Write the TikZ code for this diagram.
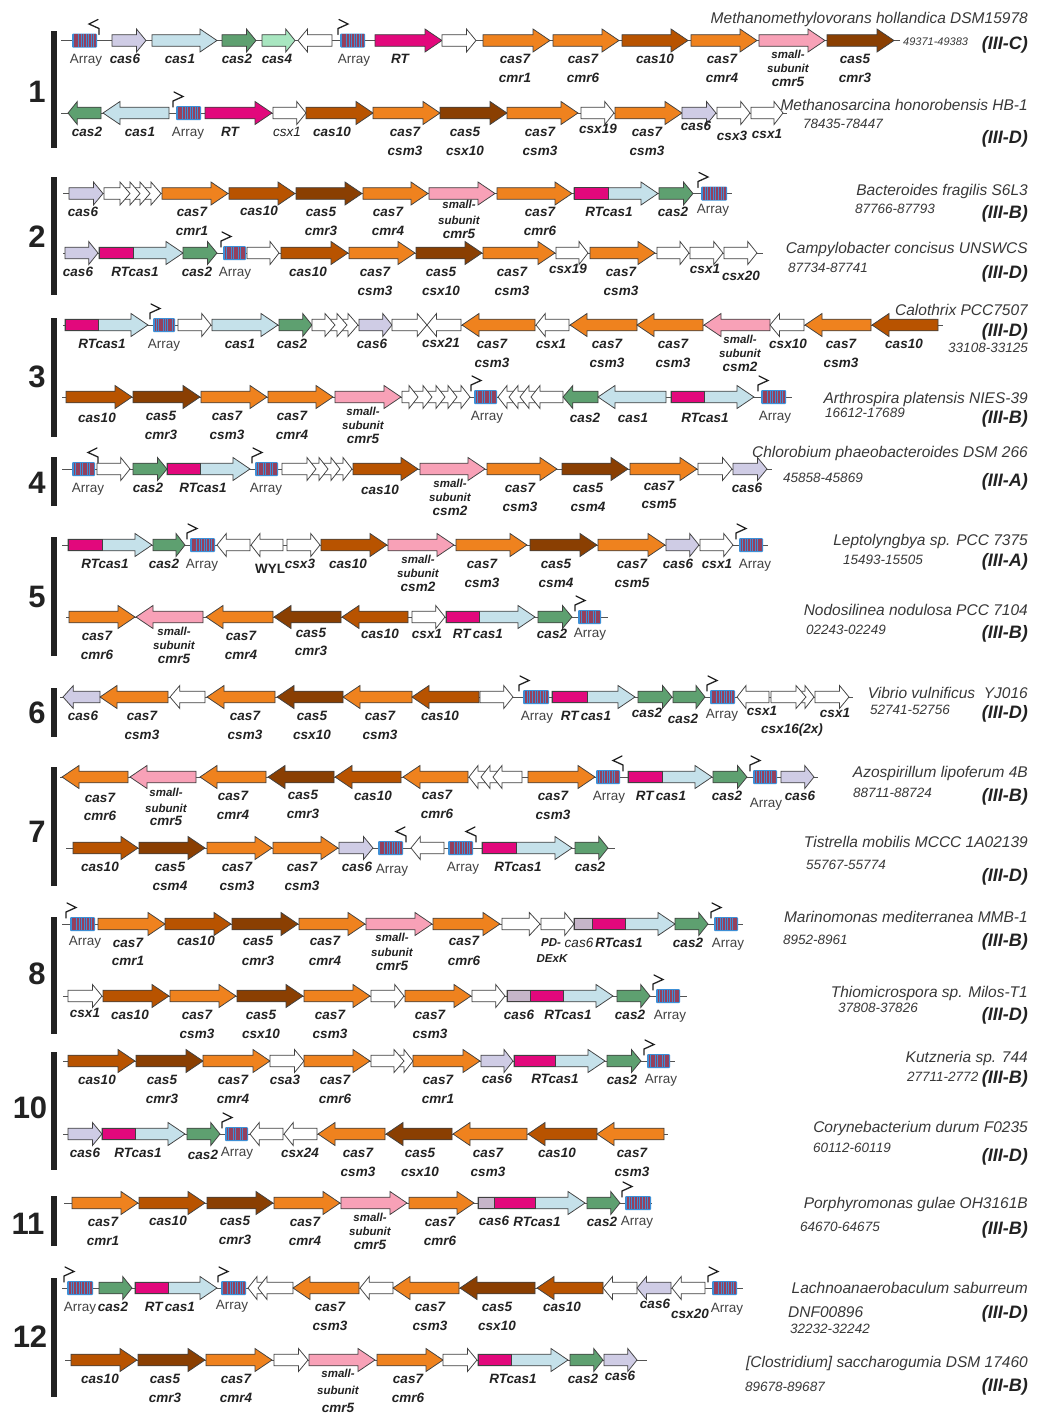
\documentclass[tikz,border=0pt]{standalone}
\usepackage{fontspec}
\setmainfont{Liberation Sans}
\definecolor{cseven}{HTML}{EF821E}
\definecolor{cten}{HTML}{B85300}
\definecolor{cfive}{HTML}{8A3F02}
\definecolor{cpink}{HTML}{F8A1B7}
\definecolor{csix}{HTML}{CFCCE5}
\definecolor{csixg}{HTML}{C6B5C9}
\definecolor{cone}{HTML}{C5E1EA}
\definecolor{ctwo}{HTML}{5EA070}
\definecolor{cfour}{HTML}{A8E6C0}
\definecolor{crt}{HTML}{E2087C}
\definecolor{arrb}{HTML}{3D8FD6}
\definecolor{arrr}{HTML}{94405E}
\definecolor{txt}{HTML}{222222}
\definecolor{outl}{HTML}{404040}
\newcounter{nn}
\def\ty{0}
\def\bh{5.8}
\def\hh{11.5}
\newcommand\gfh[4]{\filldraw[gene,fill=#4] (#2,\ty-\bh) -- (#3-#1,\ty-\bh) -- (#3-#1,\ty-\hh) -- (#3,\ty) -- (#3-#1,\ty+\hh) -- (#3-#1,\ty+\bh) -- (#2,\ty+\bh) -- cycle;}
\newcommand\grh[4]{\filldraw[gene,fill=#4] (#2,\ty) -- (#2+#1,\ty-\hh) -- (#2+#1,\ty-\bh) -- (#3,\ty-\bh) -- (#3,\ty+\bh) -- (#2+#1,\ty+\bh) -- (#2+#1,\ty+\hh) -- cycle;}
\newcommand\gf[3]{\pgfmathsetmacro\hd{min(17,0.28*(#2-#1))}\gfh{\hd}{#1}{#2}{#3}}
\newcommand\gr[3]{\pgfmathsetmacro\hd{min(17,0.28*(#2-#1))}\grh{\hd}{#1}{#2}{#3}}
\newcommand\gfu[3]{\gf{#1}{#3}{cone}\filldraw[gene,fill=crt] (#1,\ty-\bh) rectangle (#2,\ty+\bh);}
\newcommand\gft[4]{\gf{#1}{#4}{cone}\filldraw[gene,fill=crt] (#1,\ty-\bh) rectangle (#3,\ty+\bh);\filldraw[gene,fill=csixg] (#1,\ty-\bh) rectangle (#2,\ty+\bh);}
\newcommand\trk[2]{\draw[trk] (#1,\ty) -- (#2,\ty);}
\newcommand\crarr[2]{\fill[arrb,rounded corners=1pt] (#1,\ty-7) rectangle (#2,\ty+7);\pgfmathsetmacro\sw{(#2-#1-2)/9}\foreach \k in {0,...,8}{\fill[arrr] ({#1+1+\k*\sw+0.35*\sw},\ty-6.3) rectangle ({#1+1+(\k+1)*\sw},\ty+6.3);}}
\newcommand\promf[1]{\draw[prom] (#1,\ty-6) -- (#1,\ty-12) -- (#1+10,\ty-16.5) -- (#1+1,\ty-21);}
\newcommand\promb[1]{\draw[prom] (#1,\ty-6) -- (#1,\ty-12) -- (#1-10,\ty-16.5) -- (#1-1,\ty-21);}
\newcommand\glo[3]{\stepcounter{nn}\node[lab] (n\arabic{nn}) at (#1,\ty+#2+5) {#3};}
\newcommand\gla[2]{\glo{#1}{18}{#2}}
\newcommand\glb[3]{\glo{#1}{18}{#2}\glo{#1}{37}{#3}}
\newcommand\glsm[2]{\stepcounter{nn}\node[labs] (n\arabic{nn}) at (#1,\ty+#2+4) {small-};}
\newcommand\glsu[2]{\stepcounter{nn}\node[labs] (n\arabic{nn}) at (#1,\ty+#2+4) {subunit};}
\newcommand\gls[2]{\glsm{#1}{14}\glsu{#1}{28}\glo{#1}{41}{#2}}
\newcommand\gly[2][18]{\stepcounter{nn}\node[laby] (n\arabic{nn}) at (#2,\ty+#1+5) {Array};}
\newcommand\glt[3]{\stepcounter{nn}\node[labt] (n\arabic{nn}) at (#1,\ty+#2+5) {#3};}
\newcommand\spn[2]{\stepcounter{nn}\node[spf,anchor=base east] (n\arabic{nn}) at (1028,#1+5.5) {#2};}
\newcommand\spc[3]{\stepcounter{nn}\node[crd,anchor=base west] (n\arabic{nn}) at (#1,#2+4.5) {#3};}
\newcommand\spt[2]{\stepcounter{nn}\node[typ,anchor=base east] (n\arabic{nn}) at (1028,#1+6) {#2};}
\newcommand\rown[5]{\fill[txt] (50.5,#1) rectangle (57,#2); \node[numf] (r#3) at (#4,#5) {#3};}
\begin{document}
\begin{tikzpicture}[x=1pt,y=-1pt,
  gene/.style={draw=outl,line width=0.75pt,line join=miter},
  trk/.style={draw=outl!90,line width=0.8pt},
  prom/.style={draw=txt,line width=1.3pt,line cap=round,line join=miter},
  lab/.style={font=\bfseries\itshape\fontsize{13.5}{15}\selectfont,text=txt,inner sep=0pt,anchor=base},
  labs/.style={font=\bfseries\itshape\fontsize{11.5}{13}\selectfont,text=txt,inner sep=0pt,anchor=base},
  laby/.style={font=\fontsize{13.5}{15}\selectfont,text=txt!85,inner sep=0pt,anchor=base},
  labt/.style={font=\itshape\fontsize{13.5}{15}\selectfont,text=txt,inner sep=0pt,anchor=base},
  labu/.style={font=\bfseries\fontsize{13.5}{15}\selectfont,text=txt,inner sep=0pt,anchor=base},
  spf/.style={font=\itshape\fontsize{15.5}{17}\selectfont,text=txt!90,inner sep=0pt},
  crd/.style={font=\itshape\fontsize{13.5}{15}\selectfont,text=txt!90,inner sep=0pt},
  typ/.style={font=\bfseries\itshape\fontsize{18}{20}\selectfont,text=txt,inner sep=0pt},
  numf/.style={font=\bfseries\fontsize{31}{31}\selectfont,text=txt,inner sep=0pt}]
\fill[white] (0,0) rectangle (1046,1414);
\useasboundingbox (0,0) rectangle (1046,1414);
% row numbers
\rown{31}{148}{1}{37}{92}
\rown{177}{295}{2}{37}{237}
\rown{318}{437}{3}{37}{377}
\rown{457}{506}{4}{37}{483}
\rown{537}{656}{5}{37}{597}
\rown{688}{737}{6}{37}{713}
\rown{767}{886}{7}{37}{832}
\rown{917}{1034}{8}{37}{974}
\rown{1052}{1170}{10}{30}{1108}
\rown{1196}{1246}{11}{28}{1224}
\rown{1278}{1397}{12}{30}{1337}
% ---------- 1a
\def\ty{40.5}
\trk{61}{900}
\crarr{72}{97}\promb{99}
\gf{112}{146}{csix}
\gf{152}{217}{cone}
\gf{222}{256}{ctwo}
\gf{262}{295}{cfour}
\gr{298}{332}{white}
\promf{338}\crarr{340}{365}
\gf{375}{442}{crt}
\gf{442}{476}{white}
\gf{483}{550}{cseven}
\gf{553}{619}{cseven}
\gf{622}{688}{cten}
\gf{691}{757}{cseven}
\gf{759}{825}{cpink}
\gf{827}{894}{cfive}
\gly{86}\gla{125}{cas6}\gla{180}{cas1}\gla{237}{cas2}\gla{277}{cas4}\gly{354}\gla{400}{RT}
\glb{515}{cas7}{cmr1}\glb{583}{cas7}{cmr6}\gla{655}{cas10}\glb{722}{cas7}{cmr4}\gls{788}{cmr5}\glb{855}{cas5}{cmr3}
\spn{18}{Methanomethylovorans hollandica DSM15978}
\stepcounter{nn}\node[crd,anchor=base west,font=\itshape\fontsize{11}{12}\selectfont] (n\arabic{nn}) at (903,45) {49371-49383};
\spt{43}{(III-C)}
% ---------- 1b
\def\ty{113}
\trk{61}{787}
\gr{68}{101}{ctwo}
\gr{103}{169}{cone}
\promf{173}\crarr{176}{201}
\gf{205}{272}{crt}
\gf{273}{306}{white}
\gf{306}{373}{cten}
\gf{373}{440}{cseven}
\gf{440}{507}{cfive}
\gf{507}{578}{cseven}
\gf{581}{614}{white}
\gf{615}{682}{cseven}
\gf{682}{716}{csix}
\gf{717}{750}{white}
\gf{751}{783}{white}
\gla{87}{cas2}\gla{140}{cas1}\gly{188}\gla{230}{RT}\glt{287}{18}{csx1}\gla{332}{cas10}
\glb{405}{cas7}{csm3}\glb{465}{cas5}{csx10}\glb{540}{cas7}{csm3}\glo{598}{15}{csx19}\glb{647}{cas7}{csm3}
\glo{696}{12}{cas6}\glo{732}{22}{csx3}\glo{767}{20}{csx1}
\spn{105}{Methanosarcina honorobensis HB-1}\spc{803}{124}{78435-78447}\spt{137}{(III-D)}
% ---------- 2a
\def\ty{193.5}
\trk{63}{732}
\gf{69}{103}{csix}
\gfh{10}{140}{161}{white}\gfh{10}{130}{150}{white}\gfh{10}{120}{140}{white}\gfh{10}{104}{130}{white}
\gf{162}{228}{cseven}
\gf{229}{295}{cten}
\gf{296}{362}{cfive}
\gf{363}{428}{cseven}
\gf{429}{495}{cpink}
\gf{497}{572}{cseven}
\gfu{574}{608}{658}
\gf{659}{693}{ctwo}
\promf{698}\crarr{701}{727}
\gla{83}{cas6}\glb{192}{cas7}{cmr1}\glo{259}{17}{cas10}\glb{321}{cas5}{cmr3}\glb{388}{cas7}{cmr4}\glsm{459}{11}\glsu{459}{27}\glo{459}{40}{cmr5}\glb{540}{cas7}{cmr6}
\gla{609}{RTcas1}\gla{673}{cas2}\gly[15]{713}
\spn{190}{Bacteroides fragilis S6L3}\spc{855}{209}{87766-87793}\spt{212}{(III-B)}
% ---------- 2b
\def\ty{253}
\trk{63}{763}
\gf{65}{98}{csix}
\gfu{99}{133}{183}
\gf{183}{217}{ctwo}
\promf{221}\crarr{223}{246}
\gf{247}{279}{white}
\gf{281}{348}{cten}
\gf{349}{415}{cseven}
\gf{416}{482}{cfive}
\gf{483}{555}{cseven}
\gf{556}{588}{white}
\gf{590}{655}{cseven}
\gf{657}{689}{white}
\gf{690}{723}{white}
\gf{724}{757}{white}
\gla{78}{cas6}\gla{135}{RTcas1}\gla{197}{cas2}\gly{235}\gla{308}{cas10}
\glb{375}{cas7}{csm3}\glb{441}{cas5}{csx10}\glb{512}{cas7}{csm3}\glo{568}{15}{csx19}\glb{621}{cas7}{csm3}\glo{705}{15}{csx1}\glo{741}{22}{csx20}
\spn{248}{Campylobacter concisus UNSWCS}\spc{788}{268}{87734-87741}\spt{272}{(III-D)}
% ---------- 3a
\def\ty{325}
\trk{63}{943}
\gfu{65}{98}{148}
\promf{150}\crarr{153}{175}
\gf{178}{211}{white}
\gf{212}{278}{cone}
\gf{279}{312}{ctwo}
\gfh{10}{337}{358}{white}\gfh{10}{325}{347}{white}\gfh{10}{312}{335}{white}
\gf{359}{392}{csix}
\gf{392}{427}{white}
\gr{427}{461}{white}
\gr{462}{535}{cseven}
\gr{536}{569}{white}
\gr{570}{637}{cseven}
\gr{637}{703}{cseven}
\gr{704}{770}{cpink}
\gr{770}{804}{white}
\gr{805}{871}{cseven}
\gr{872}{938}{cten}
\gla{102}{RTcas1}\gly{164}\gla{240}{cas1}\gla{292}{cas2}\gla{372}{cas6}\glo{441}{17}{csx21}
\glb{492}{cas7}{csm3}\gla{551}{csx1}\glb{607}{cas7}{csm3}\glb{673}{cas7}{csm3}\gls{740}{csm2}\gla{788}{csx10}\glb{841}{cas7}{csm3}\gla{904}{cas10}
\spn{310}{Calothrix PCC7507}\spt{330}{(III-D)}
\stepcounter{nn}\node[crd,anchor=base east] (n\arabic{nn}) at (1028,352.5) {33108-33125};
% ---------- 3b
\def\ty{397}
\trk{62}{792}
\gf{66}{132}{cten}
\gf{133}{200}{cfive}
\gf{201}{267}{cseven}
\gf{268}{333}{cseven}
\gf{335}{401}{cpink}
\gfh{9}{448}{470}{white}\gfh{9}{436}{457}{white}\gfh{9}{423}{445}{white}\gfh{9}{409}{432}{white}\gfh{9}{402}{418}{white}
\promf{471}\crarr{474}{497}
\grh{9}{498}{518}{white}\grh{9}{509}{529}{white}\grh{9}{520}{540}{white}\grh{9}{531}{563}{white}
\gr{563}{598}{ctwo}
\gr{598}{666}{cone}
\gfu{671}{704}{754}
\promf{758}\crarr{761}{786}
\glo{97}{20}{cas10}\glb{161}{cas5}{cmr3}\glb{227}{cas7}{csm3}\glb{292}{cas7}{cmr4}\gls{363}{cmr5}\gly{487}
\glo{585}{20}{cas2}\glo{633}{20}{cas1}\glo{705}{20}{RTcas1}\gly{775}
\spn{398}{Arthrospira platensis NIES-39}\spc{825}{413}{16612-17689}\spt{417}{(III-B)}
% ---------- 4
\def\ty{469}
\trk{62}{772}
\crarr{72}{95}\promb{98}
\gf{97}{130}{white}
\gf{133}{167}{ctwo}
\gfu{167}{200}{250}
\promf{252}\crarr{255}{278}
\gfh{9}{331}{352}{white}\gfh{9}{319}{340}{white}\gfh{9}{307}{328}{white}\gfh{9}{282}{316}{white}
\gf{353}{418}{cten}
\gf{420}{485}{cpink}
\gf{487}{557}{cseven}
\gf{562}{628}{cfive}
\gf{630}{697}{cseven}
\gf{698}{732}{white}
\gf{733}{767}{csix}
\gly{88}\gla{148}{cas2}\gla{203}{RTcas1}\gly{266}\glo{380}{20}{cas10}\gls{450}{csm2}\glb{520}{cas7}{csm3}\glb{588}{cas5}{csm4}\glo{659}{16}{cas7}\glo{659}{34}{csm5}\gla{747}{cas6}
\spn{452}{Chlorobium phaeobacteroides DSM 266}\spc{783}{478}{45858-45869}\spt{480}{(III-A)}
% ---------- 5a
\def\ty{545}
\trk{62}{768}
\gfu{68}{102}{152}
\gf{153}{185}{ctwo}
\promf{187}\crarr{190}{215}
\gr{217}{250}{white}
\gr{251}{283}{white}
\gf{287}{320}{white}
\gf{321}{387}{cten}
\gf{388}{454}{cpink}
\gf{456}{527}{cseven}
\gf{530}{597}{cfive}
\gf{598}{665}{cseven}
\gf{666}{699}{csix}
\gf{700}{733}{white}
\promf{736}\crarr{739}{763}
\gla{105}{RTcas1}\gla{164}{cas2}\gly{202}
\stepcounter{nn}\node[labu] (n\arabic{nn}) at (270,\ty+23+5) {WYL};
\gla{300}{csx3}\gla{348}{cas10}\gls{418}{csm2}\glb{482}{cas7}{csm3}\glb{556}{cas5}{csm4}\glb{632}{cas7}{csm5}\gla{678}{cas6}\gla{717}{csx1}\gly{755}
\spn{540}{Leptolyngbya sp. PCC 7375}\spc{843}{560}{15493-15505}\spt{560}{(III-A)}
% ---------- 5b
\def\ty{617}
\trk{66}{608}
\gf{69}{135}{cseven}
\gr{136}{203}{cpink}
\gr{206}{273}{cseven}
\gr{274}{341}{cfive}
\gr{342}{408}{cten}
\gf{412}{445}{white}
\gfu{446}{479}{535}
\gf{538}{572}{ctwo}
\promf{575}\crarr{578}{601}
\glb{97}{cas7}{cmr6}\gls{174}{cmr5}\glb{241}{cas7}{cmr4}\glo{311}{15}{cas5}\glo{311}{33}{cmr3}\glo{380}{16}{cas10}\glo{427}{16}{csx1}\glo{478}{16}{RT\,cas1}\glo{552}{16}{cas2}\gly[15]{590}
\spn{610}{Nodosilinea nodulosa PCC 7104}\spc{806}{630}{02243-02249}\spt{632}{(III-B)}
% ---------- 6
\def\ty{697}
\trk{60}{853}
\gr{63}{100}{csix}
\gr{100}{168}{cseven}
\gr{170}{205}{white}
\gr{207}{275}{cseven}
\gr{277}{343}{cfive}
\gr{343}{412}{cseven}
\gr{412}{479}{cten}
\gf{480}{513}{white}
\promf{519}\crarr{523}{549}
\gfu{552}{587}{635}
\gf{638}{672}{ctwo}
\gf{673}{705}{ctwo}
\promf{707}\crarr{710}{735}
\gr{737}{769}{white}
\gfh{9}{800}{814}{white}\gfh{10}{771}{806}{white}
\gf{815}{849}{white}
\gla{83}{cas6}\glb{142}{cas7}{csm3}\glb{245}{cas7}{csm3}\glb{312}{cas5}{csx10}\glb{380}{cas7}{csm3}\gla{440}{cas10}
\gly{537}\gla{586}{RT\,cas1}\glo{647}{15}{cas2}\glo{683}{21}{cas2}\gly[16]{722}\glo{762}{13}{csx1}\glo{792}{31}{csx16(2x)}\glo{835}{15}{csx1}
\spn{693}{Vibrio vulnificus\ \ YJ016}\spc{870}{710}{52741-52756}\spt{712}{(III-D)}
% ---------- 7a
\def\ty{777}
\trk{60}{818}
\gr{62}{128}{cseven}
\gr{130}{196}{cpink}
\gr{200}{266}{cseven}
\gr{268}{334}{cfive}
\gr{335}{401}{cten}
\gr{403}{468}{cseven}
\grh{9}{469}{490}{white}\grh{9}{481}{502}{white}\grh{9}{493}{522}{white}
\gf{528}{595}{cseven}
\crarr{596}{620}\promb{623}
\gfu{628}{662}{712}
\gf{713}{747}{ctwo}
\promf{750}\crarr{753}{777}
\gf{781}{814}{csix}
\glo{100}{20}{cas7}\glo{100}{38}{cmr6}\glsm{166}{15}\glsu{166}{31}\glo{166}{43}{cmr5}\glb{233}{cas7}{cmr4}\glo{303}{17}{cas5}\glo{303}{36}{cmr3}\gla{373}{cas10}\glo{437}{17}{cas7}\glo{437}{36}{cmr6}
\glb{553}{cas7}{csm3}\gly{609}\gla{661}{RT\,cas1}\gla{727}{cas2}\gly[25]{766}\gla{800}{cas6}
\spn{772}{Azospirillum lipoferum 4B}\spc{853}{793}{88711-88724}\spt{795}{(III-B)}
% ---------- 7b
\def\ty{848}
\trk{66}{615}
\gf{73}{138}{cten}
\gf{139}{205}{cfive}
\gf{207}{272}{cseven}
\gf{273}{338}{cseven}
\gf{339}{373}{csix}
\crarr{378}{403}\promb{406}
\gr{411}{444}{white}
\crarr{448}{473}\promb{476}
\gfu{482}{516}{572}
\gf{575}{608}{ctwo}
\gla{100}{cas10}\glb{170}{cas5}{csm4}\glb{237}{cas7}{csm3}\glb{302}{cas7}{csm3}\gla{357}{cas6}\gly[20]{392}\gly{463}\gla{518}{RTcas1}\gla{590}{cas2}
\spn{842}{Tistrella mobilis MCCC 1A02139}\spc{806}{865}{55767-55774}\spt{875}{(III-D)}
% ---------- 8a
\def\ty{924}
\trk{62}{743}
\promf{66}\crarr{70}{95}
\gf{98}{165}{cseven}
\gf{165}{231}{cten}
\gf{232}{298}{cfive}
\gf{299}{365}{cseven}
\gf{366}{432}{cpink}
\gf{433}{500}{cseven}
\gf{502}{540}{white}
\gf{541}{574}{white}
\gft{574}{592}{625}{675}
\gf{675}{708}{ctwo}
\promf{711}\crarr{714}{738}
\gly[16]{85}\glo{128}{18}{cas7}\glo{128}{36}{cmr1}\glo{196}{16}{cas10}\glo{258}{16}{cas5}\glo{258}{36}{cmr3}\glo{325}{16}{cas7}\glo{325}{36}{cmr4}\glsm{392}{13}\glsu{392}{28}\glo{392}{41}{cmr5}\glo{464}{16}{cas7}\glo{464}{36}{cmr6}
\stepcounter{nn}\node[labs] (n\arabic{nn}) at (551,\ty+18+4) {PD-};
\stepcounter{nn}\node[labs] (n\arabic{nn}) at (552,\ty+34+4) {DExK};
\glt{579}{18}{cas6}\glo{619}{18}{RTcas1}\glo{688}{18}{cas2}\gly{728}
\spn{917}{Marinomonas mediterranea MMB-1}\spc{783}{940}{8952-8961}\spt{940}{(III-B)}
% ---------- 8b
\def\ty{996}
\trk{63}{687}
\gf{68}{102}{white}
\gf{103}{169}{cten}
\gf{170}{236}{cseven}
\gf{237}{303}{cfive}
\gf{304}{370}{cseven}
\gf{371}{404}{white}
\gf{405}{471}{cseven}
\gf{472}{505}{white}
\gft{507}{530}{563}{613}
\gf{617}{650}{ctwo}
\promf{653}\crarr{656}{680}
\glo{85}{16}{csx1}\gla{130}{cas10}\glb{197}{cas7}{csm3}\glb{261}{cas5}{csx10}\glb{330}{cas7}{csm3}\glb{430}{cas7}{csm3}\gla{519}{cas6}\gla{568}{RTcas1}\gla{630}{cas2}\gly{670}
\spn{992}{Thiomicrospora sp. Milos-T1}\spc{838}{1008}{37808-37826}\spt{1014}{(III-D)}
% ---------- 10a
\def\ty{1061}
\trk{63}{675}
\gf{68}{135}{cten}
\gf{136}{203}{cfive}
\gf{203}{270}{cseven}
\gf{270}{304}{white}
\gf{304}{370}{cseven}
\gfh{9}{394}{413}{white}\gfh{10}{371}{404}{white}
\gf{413}{480}{cseven}
\gf{481}{513}{csix}
\gfu{514}{555}{605}
\gf{607}{641}{ctwo}
\promf{644}\crarr{647}{670}
\gla{97}{cas10}\glb{162}{cas5}{cmr3}\glb{233}{cas7}{cmr4}\gla{285}{csa3}\glb{335}{cas7}{cmr6}\glb{438}{cas7}{cmr1}\glo{497}{17}{cas6}\glo{555}{17}{RTcas1}\gla{622}{cas2}\gly[17]{661}
\spn{1057}{Kutzneria sp. 744}\spc{907}{1077}{27711-2772}\spt{1077}{(III-B)}
% ---------- 10b
\def\ty{1134}
\trk{63}{668}
\gf{68}{102}{csix}
\gfu{102}{135}{185}
\gf{187}{220}{ctwo}
\promf{222}\crarr{225}{248}
\gr{250}{283}{white}
\gr{284}{317}{white}
\gr{318}{385}{cseven}
\gr{386}{452}{cfive}
\gr{453}{527}{cseven}
\gr{528}{597}{cten}
\gr{597}{664}{cseven}
\gla{85}{cas6}\gla{138}{RTcas1}\glo{203}{20}{cas2}\gly[17]{237}\gla{300}{csx24}\glb{358}{cas7}{csm3}\glb{420}{cas5}{csx10}\glb{488}{cas7}{csm3}\gla{557}{cas10}\glb{632}{cas7}{csm3}
\spn{1127}{Corynebacterium durum F0235}\spc{813}{1148}{60112-60119}\spt{1155}{(III-D)}
% ---------- 11
\def\ty{1203}
\trk{64}{652}
\gf{72}{138}{cseven}
\gf{139}{205}{cten}
\gf{207}{273}{cfive}
\gf{274}{340}{cseven}
\gf{341}{407}{cpink}
\gf{409}{474}{cseven}
\gft{478}{494}{535}{585}
\gf{587}{620}{ctwo}
\promf{622}\crarr{625}{651}
\glb{103}{cas7}{cmr1}\glo{168}{17}{cas10}\glo{235}{17}{cas5}\glo{235}{36}{cmr3}\glb{305}{cas7}{cmr4}\gls{370}{cmr5}\glb{440}{cas7}{cmr6}\glo{494}{17}{cas6}\glo{537}{18}{RTcas1}\gla{602}{cas2}\gly[17]{637}
\spn{1203}{Porphyromonas gulae OH3161B}\spc{800}{1227}{64670-64675}\spt{1228}{(III-B)}
% ---------- 12a
\def\ty{1288}
\trk{62}{743}
\promf{64}\crarr{67}{93}
\gf{99}{132}{ctwo}
\gfu{135}{168}{217}
\promf{218}\crarr{221}{246}
\grh{9}{248}{267}{white}\grh{9}{258}{293}{white}
\gr{293}{359}{cseven}
\gr{360}{393}{white}
\gr{393}{459}{cseven}
\gr{460}{535}{cfive}
\gr{537}{603}{cten}
\gr{603}{637}{white}
\gr{637}{671}{csix}
\gr{672}{705}{white}
\promf{708}\crarr{712}{737}
\gly{80}\gla{113}{cas2}\gla{170}{RT\,cas1}\gly[16]{232}\glb{330}{cas7}{csm3}\glb{430}{cas7}{csm3}\glb{497}{cas5}{csx10}\gla{562}{cas10}\glo{655}{15}{cas6}\glo{690}{25}{csx20}\gly[19]{727}
\spn{1288}{Lachnoanaerobaculum saburreum}
\stepcounter{nn}\node[spf,anchor=base west] (n\arabic{nn}) at (788,1317.5) {DNF00896};
\spt{1312}{(III-D)}\spc{790}{1329}{32232-32242}
% ---------- 12b
\def\ty{1360}
\trk{65}{647}
\gf{71}{137}{cten}
\gf{138}{205}{cfive}
\gf{206}{272}{cseven}
\gf{274}{308}{white}
\gf{309}{375}{cpink}
\gf{377}{443}{cseven}
\gf{443}{477}{white}
\gfu{478}{511}{568}
\gf{570}{603}{ctwo}
\gf{604}{637}{csix}
\gla{100}{cas10}\glb{165}{cas5}{cmr3}\glb{236}{cas7}{cmr4}\glsm{338}{13}\glsu{338}{30}\glo{338}{47}{cmr5}\glb{408}{cas7}{cmr6}\gla{513}{RTcas1}\gla{583}{cas2}\glo{620}{15}{cas6}
\spn{1362}{[Clostridium] saccharogumia DSM 17460}\spc{745}{1387}{89678-89687}\spt{1385}{(III-B)}
\end{tikzpicture}
\end{document}
